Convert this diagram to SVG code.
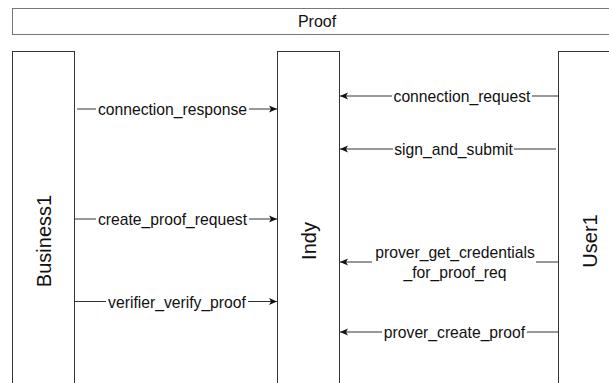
<svg xmlns="http://www.w3.org/2000/svg" width="609" height="383" viewBox="0 0 609 383">
<style>
.box{fill:#fff;stroke:#333;stroke-width:1}
.title{fill:#fff;stroke:#777;stroke-width:1}
.lbl{font-family:"Liberation Sans",Arial,sans-serif;font-size:15.7px;fill:#111;text-anchor:middle}
.big{font-family:"Liberation Sans",Arial,sans-serif;font-size:20px;fill:#111;text-anchor:middle;dominant-baseline:central}
.ln{stroke:#333;stroke-width:1;fill:none}
.bg{fill:#fff}
</style>
<defs>
<marker id="ah" markerWidth="9" markerHeight="8" refX="8" refY="4" orient="auto" markerUnits="userSpaceOnUse">
<path d="M0,0.5 L8,4 L0,7.5 L2,4 Z" fill="#111"/>
</marker>
</defs>
<rect width="609" height="383" fill="#fff"/>
<g id="proof">
<rect class="title" x="12.5" y="8.5" width="609" height="26"/>
<text class="lbl" x="317" y="27" style="font-size:16px">Proof</text>
</g>
<g id="business1">
<rect class="box" x="12.5" y="51.5" width="62" height="380"/>
<text class="big" transform="translate(43.5,241) rotate(-90)">Business1</text>
</g>
<g id="indy">
<rect class="box" x="277.5" y="51.5" width="62" height="380"/>
<text class="big" transform="translate(308.5,241) rotate(-90)">Indy</text>
</g>
<g id="user1">
<rect class="box" x="558.5" y="51.5" width="62" height="380"/>
<text class="big" transform="translate(589.5,241) rotate(-90)">User1</text>
</g>
<g id="connectors">
<line class="ln" x1="77" y1="109" x2="277" y2="109" marker-end="url(#ah)"/>
<rect class="bg" x="96" y="100" width="153" height="18"/>
<text class="lbl" x="172.5" y="115">connection_response</text>

<line class="ln" x1="74.5" y1="219" x2="277" y2="219" marker-end="url(#ah)"/>
<rect class="bg" x="96" y="210" width="153" height="18"/>
<text class="lbl" x="172.5" y="225">create_proof_request</text>

<line class="ln" x1="74.5" y1="301.5" x2="277" y2="301.5" marker-end="url(#ah)"/>
<rect class="bg" x="106" y="292" width="142" height="18"/>
<text class="lbl" x="177" y="307.5">verifier_verify_proof</text>

<line class="ln" x1="558.5" y1="96" x2="340" y2="96" marker-end="url(#ah)"/>
<rect class="bg" x="392" y="87" width="140" height="18"/>
<text class="lbl" x="462" y="102">connection_request</text>

<line class="ln" x1="556" y1="149" x2="340" y2="149" marker-end="url(#ah)"/>
<rect class="bg" x="393" y="140" width="121" height="18"/>
<text class="lbl" x="453.5" y="155">sign_and_submit</text>

<line class="ln" x1="558.5" y1="262" x2="340" y2="262" marker-end="url(#ah)"/>
<rect class="bg" x="372" y="242" width="164" height="40"/>
<text class="lbl" x="455" y="258">prover_get_credentials</text>
<text class="lbl" x="455" y="278">_for_proof_req</text>

<line class="ln" x1="558.5" y1="332" x2="340" y2="332" marker-end="url(#ah)"/>
<rect class="bg" x="382" y="323" width="145" height="18"/>
<text class="lbl" x="454.5" y="338">prover_create_proof</text>
</g>
</svg>
